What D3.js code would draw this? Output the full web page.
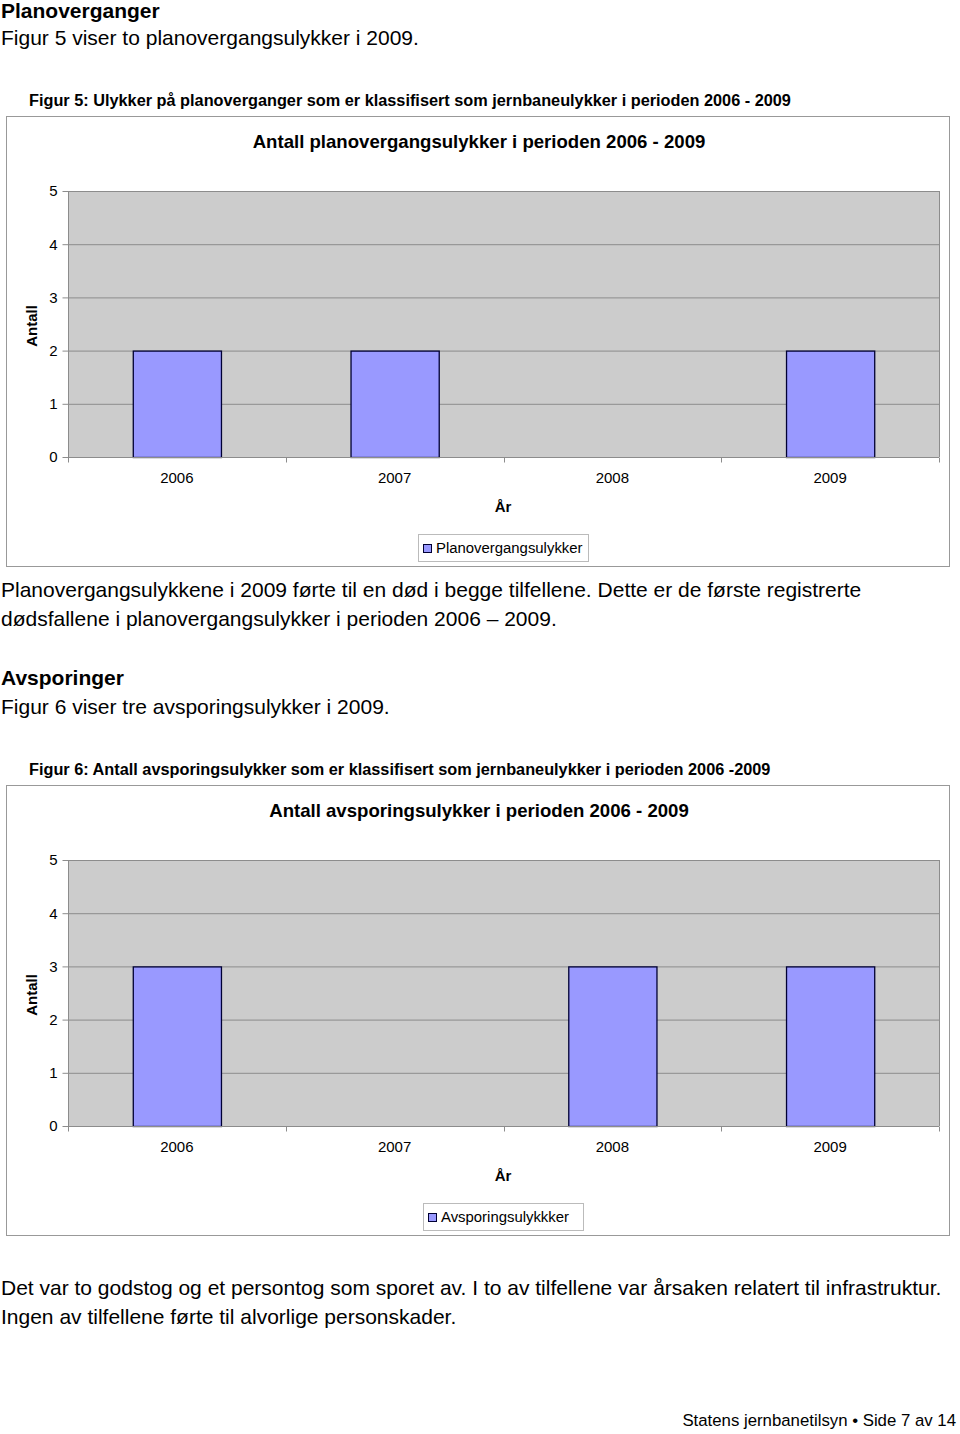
<!DOCTYPE html>
<html><head><meta charset="utf-8">
<script src="https://cdn.jsdelivr.net/npm/d3@7"></script>
<style>
body{margin:0;background:#fff;}
svg{display:block;font-family:"Liberation Sans",Arial,Helvetica,sans-serif;}
</style></head><body>
<svg id="page" width="960" height="1434"></svg>
<script>
const years = ["2006","2007","2008","2009"];
const planValues = [2,2,0,2];
const avspValues = [3,0,3,3];
const yTicks = [0,1,2,3,4,5];

const svg = d3.select("#page");

function txt(x,y,s,size,bold,anchor){
  return svg.append("text").attr("x",x).attr("y",y).attr("font-size",size)
    .attr("font-weight",bold?"bold":"normal").attr("text-anchor",anchor||"start")
    .attr("fill","#000").text(s);
}

// page text
txt(1,18,"Planoverganger",21,true);
txt(1,45,"Figur 5 viser to planovergangsulykker i 2009.",21,false);
txt(29,106,"Figur 5: Ulykker på planoverganger som er klassifisert som jernbaneulykker i perioden 2006 - 2009",16.3,true);

txt(1,597,"Planovergangsulykkene i 2009 førte til en død i begge tilfellene. Dette er de første registrerte",21,false);
txt(1,626,"dødsfallene i planovergangsulykker i perioden 2006 – 2009.",21,false);
txt(1,685,"Avsporinger",21,true);
txt(1,714,"Figur 6 viser tre avsporingsulykker i 2009.",21,false);
txt(29,775,"Figur 6: Antall avsporingsulykker som er klassifisert som jernbaneulykker i perioden 2006 -2009",16.3,true);

txt(1,1295,"Det var to godstog og et persontog som sporet av. I to av tilfellene var årsaken relatert til infrastruktur.",21,false);
txt(1,1324,"Ingen av tilfellene førte til alvorlige personskader.",21,false);
txt(956,1426,"Statens jernbanetilsyn • Side 7 av 14",16.8,false,"end");

function chart(top, title, values, legendLabel, legendX, legendW){
  const g = svg.append("g").attr("transform",`translate(0,${top})`);
  // outer frame
  g.append("rect").attr("x",6.5).attr("y",0.5).attr("width",943).attr("height",450)
    .attr("fill","#fff").attr("stroke","#999").attr("stroke-width",1);
  g.append("text").attr("x",479).attr("y",32).attr("text-anchor","middle")
    .attr("font-size",18.6).attr("font-weight","bold").text(title);

  const x0=68, x1=939, yTop=75, yBot=341;
  const x = d3.scaleBand().domain(years).range([x0,x1]).paddingInner(0).paddingOuter(0);
  const xb = d3.scaleBand().domain(years).range([x0,x1]).paddingInner(0.595).paddingOuter(0.2975);
  const y = d3.scaleLinear().domain([0,5]).range([yBot,yTop]);

  // plot background
  g.append("rect").attr("x",x0).attr("y",yTop).attr("width",x1-x0).attr("height",yBot-yTop)
    .attr("fill","#cccccc");
  // gridlines
  g.append("g").selectAll("line").data(yTicks.filter(d=>d>0)).join("line")
    .attr("x1",x0).attr("x2",x1).attr("y1",d=>y(d)+0.5).attr("y2",d=>y(d)+0.5)
    .attr("stroke","#8c8c8c").attr("stroke-width",1);
  // right border
  g.append("line").attr("x1",x1+0.5).attr("x2",x1+0.5).attr("y1",yTop).attr("y2",yBot)
    .attr("stroke","#8c8c8c");

  // bars
  const barData = values.map((v,i)=>({k:years[i],v})).filter(d=>d.v>0);
  g.append("g").selectAll("rect").data(barData)
    .join("rect")
    .attr("x",d=>xb(d.k)+0.5).attr("y",d=>y(d.v)+0.5)
    .attr("width",xb.bandwidth()).attr("height",d=>y(0)-y(d.v))
    .attr("fill","#9999ff").attr("stroke","#000033").attr("stroke-width",1.3);

  // y axis
  const ya = g.append("g").attr("transform",`translate(${x0+0.5},0)`)
    .call(d3.axisLeft(y).tickValues(yTicks).tickSize(6).tickPadding(5).tickFormat(d3.format("d")));
  ya.select(".domain").attr("stroke","#8c8c8c").attr("d",`M0,${yTop}V${yBot}`);
  ya.selectAll(".tick line").attr("stroke","#8c8c8c");
  ya.selectAll(".tick text").attr("font-size",15).attr("font-family","Liberation Sans, Arial, sans-serif").attr("fill","#000");

  // x axis
  const xa = g.append("g").attr("transform",`translate(0,${yBot+0.5})`)
    .call(d3.axisBottom(x).tickSize(0).tickPadding(15));
  xa.select(".domain").attr("stroke","#8c8c8c").attr("d",`M${x0},0H${x1}`);
  xa.selectAll(".tick text").attr("font-size",15).attr("font-family","Liberation Sans, Arial, sans-serif").attr("fill","#000");
  // boundary ticks
  const bounds = years.map(k=>x(k)).concat([x1]);
  xa.append("g").selectAll("line").data(bounds).join("line")
    .attr("x1",d=>Math.round(d)+0.5).attr("x2",d=>Math.round(d)+0.5).attr("y1",0).attr("y2",5)
    .attr("stroke","#8c8c8c");

  // axis titles
  g.append("text").attr("x",503).attr("y",396).attr("text-anchor","middle")
    .attr("font-size",15).attr("font-weight","bold").text("År");
  g.append("text").attr("transform",`translate(37,${(yTop+yBot)/2+2}) rotate(-90)`)
    .attr("text-anchor","middle").attr("font-size",15).attr("font-weight","bold").text("Antall");

  // legend
  const lg = g.append("g").attr("transform",`translate(${legendX},418)`);
  lg.append("rect").attr("x",0.5).attr("y",0.5).attr("width",legendW).attr("height",27)
    .attr("fill","#fff").attr("stroke","#bbb");
  lg.append("rect").attr("x",5.5).attr("y",10.5).attr("width",8).attr("height",8)
    .attr("fill","#9999ff").attr("stroke","#000033");
  lg.append("text").attr("x",18).attr("y",19).attr("font-size",14.9).text(legendLabel);
}

chart(116,"Antall planovergangsulykker i perioden 2006 - 2009",planValues,"Planovergangsulykker",418,170);
chart(785,"Antall avsporingsulykker i perioden 2006 - 2009",avspValues,"Avsporingsulykkker",423,160);
</script>
</body></html>
